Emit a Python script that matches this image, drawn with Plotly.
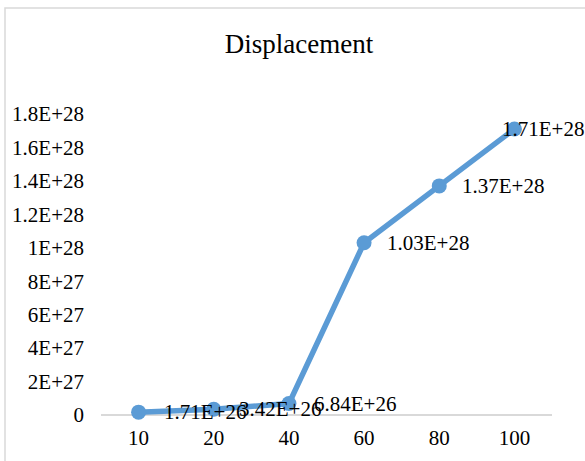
import plotly.graph_objects as go

categories = ["10", "20", "40", "60", "80", "100"]
values = [1.71e26, 3.42e26, 6.84e26, 1.03e28, 1.37e28, 1.71e28]
value_labels = ["1.71E+26", "3.42E+26", "6.84E+26", "1.03E+28", "1.37E+28", "1.71E+28"]
y_tickvals = [0, 2e27, 4e27, 6e27, 8e27, 1e28, 1.2e28, 1.4e28, 1.6e28, 1.8e28]
y_ticktext = ["0", "2E+27", "4E+27", "6E+27", "8E+27", "1E+28", "1.2E+28", "1.4E+28", "1.6E+28", "1.8E+28"]
label_shift = [23, 23, 23, 21, 21, -14]

FONT = "Liberation Serif, Times New Roman, serif"
W, H = 585, 461
L, R, T, B = 101, 33, 114, 46
pw, ph = W - L - R, H - T - B

fig = go.Figure()
fig.add_trace(go.Scatter(
    x=categories, y=values, mode="lines+markers",
    line=dict(color="#5B9BD5", width=5.5),
    marker=dict(color="#5B9BD5", size=15),
    cliponaxis=False, showlegend=False,
))

for i, (v, t, s) in enumerate(zip(values, value_labels, label_shift)):
    fig.add_annotation(x=i, y=v, text=t, showarrow=False, xanchor="left",
                       yanchor="middle", xshift=s,
                       font=dict(family=FONT, size=21, color="#000000"))

def px_x(p):
    return (p - L) / pw

def px_y(p):
    return (H - B - p) / ph

fig.add_shape(type="rect", xref="paper", yref="paper",
              x0=px_x(5), x1=px_x(620), y0=px_y(8), y1=px_y(480),
              line=dict(color="#D9D9D9", width=1.5), layer="below")

fig.update_layout(
    width=W, height=H,
    margin=dict(l=L, r=R, t=T, b=B),
    paper_bgcolor="white", plot_bgcolor="white",
    title=dict(text="Displacement", x=299 / W, xref="container", xanchor="center",
               y=1 - 44 / H, yref="container", yanchor="middle",
               font=dict(family=FONT, size=27, color="#000000")),
    font=dict(family=FONT, size=21, color="#000000"),
)
fig.update_xaxes(type="category", range=[-0.5, len(categories) - 0.5],
                 showgrid=False, showline=False, zeroline=False,
                 ticks="", ticklabelstandoff=8,
                 tickfont=dict(family=FONT, size=21, color="#000000"))
fig.update_yaxes(range=[0, 1.8e28], tickvals=y_tickvals, ticktext=y_ticktext,
                 showgrid=False, zeroline=True, zerolinecolor="#D9D9D9", zerolinewidth=1.5,
                 showline=False, ticks="", ticklabelstandoff=16,
                 tickfont=dict(family=FONT, size=21, color="#000000"))

fig.write_html("out.html")
